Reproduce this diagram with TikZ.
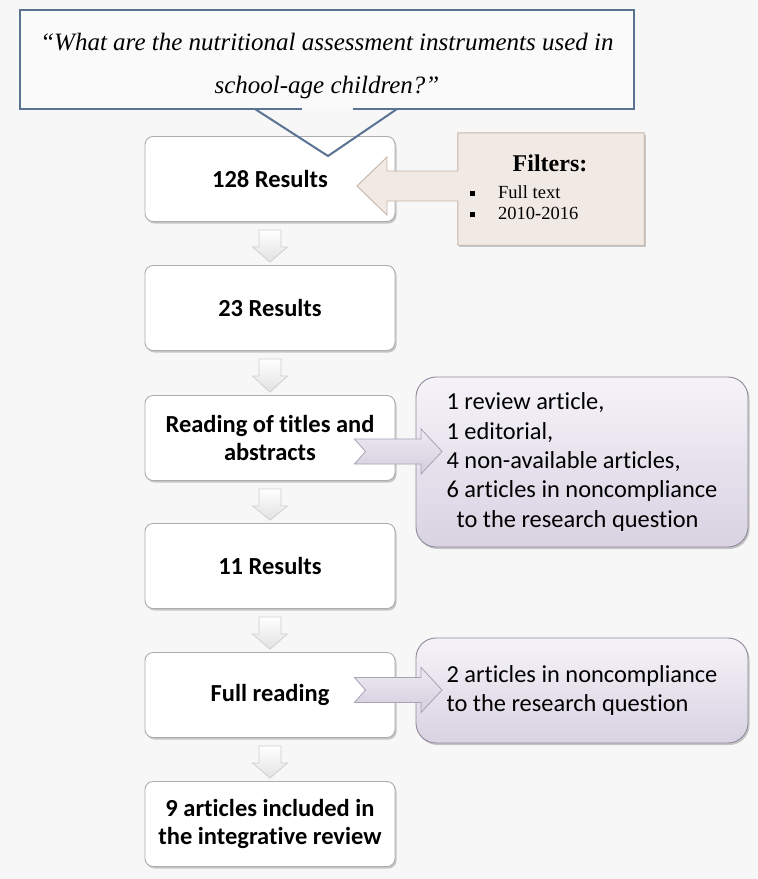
\documentclass[tikz,border=0pt]{standalone}
\usepackage{fontspec}
\setmainfont{Carlito}[Ligatures=NoCommon]
\newfontfamily\tnr{Liberation Serif}
\usetikzlibrary{calc,shadows}
\definecolor{bgc}{HTML}{F7F7F7}
\definecolor{boxline}{HTML}{ADADAD}
\definecolor{callline}{HTML}{5A7393}
\definecolor{purtop}{HTML}{F5F3F8}
\definecolor{purbot}{HTML}{D8D2E2}
\definecolor{purline}{HTML}{8E889B}
\definecolor{chevtop}{HTML}{EEEBF2}
\definecolor{chevbot}{HTML}{D3CDDD}
\definecolor{chevline}{HTML}{A8A2B4}
\definecolor{filtfill}{HTML}{F1E9E4}
\definecolor{filtline}{HTML}{C6B5A8}
\definecolor{darrline}{HTML}{CFCFCF}
\definecolor{darrbot}{HTML}{E2E2E2}
\newcommand\downarr[2]{%
  \draw[darr] ($(#1.south)+(-11,8)$) -- ($(#1.south)+(11,8)$) -- ($(#1.south)+(11,25)$)
    -- ($(#1.south)+(17.5,25)$) -- ($(#2.north)+(0,-3)$) -- ($(#1.south)+(-17.5,25)$)
    -- ($(#1.south)+(-11,25)$) -- cycle;}
\newcommand\chevron[3]{%
  \coordinate (ct) at ($(#1.east)+(-41,#3)$);
  \coordinate (cb) at ($(ct -| #2.west)+(5.5,0)$);
  \draw[chev] ($(ct)+(0,-12.5)$) -- ($(cb)+(0,-12.5)$) -- ($(cb)+(0,-22.5)$) -- ($(cb)+(21,0)$)
    -- ($(cb)+(0,22.5)$) -- ($(cb)+(0,12.5)$) -- ($(ct)+(0,12.5)$) -- ($(ct)+(11,0)$) -- cycle;}
\begin{document}
\begin{tikzpicture}[x=1pt,y=-1pt,
  shad/.style={drop shadow={shadow xshift=1.5pt,shadow yshift=-2pt,opacity=0.2,fill=black}},
  stepbox/.style={draw=boxline,line width=0.9pt,fill=white,rounded corners=8pt,
    minimum width=250pt,minimum height=85pt,align=center,inner sep=0pt,
    font=\bfseries\fontsize{24.5}{28}\selectfont,shad},
  exclbox/.style={draw=purline,line width=0.9pt,top color=purtop,bottom color=purbot,
    rounded corners=20pt,minimum width=332pt,align=left,inner sep=0pt,
    font=\fontsize{24.4}{29.3}\selectfont,shad},
  darr/.style={draw=darrline,line width=0.8pt,top color=white,bottom color=darrbot},
  chev/.style={draw=chevline,line width=0.8pt,top color=chevtop,bottom color=chevbot},
  callframe/.style={draw=callline,line width=2pt},
  filtshape/.style={draw=filtline,line width=0.9pt,fill=filtfill},
]
\fill[bgc] (0,0) rectangle (758,879);
\useasboundingbox (0,0) rectangle (758,879);

% main column
\node[stepbox] (b1) at (270,179) {128 Results};
\node[stepbox] (b2) at (270,308) {23 Results};
\node[stepbox] (b3) at (270,438) {Reading of titles and\\abstracts};
\node[stepbox] (b4) at (270,566) {11 Results};
\node[stepbox] (b5) at (270,695) {Full reading};
\node[stepbox] (b6) at (270,824) {9 articles included in\\the integrative review};

% exclusion boxes
\node[exclbox,minimum height=170pt] (ex1) at (582,462)
  {1 review article,\\1 editorial,\\4 non-available articles,\\6 articles in noncompliance\\\hspace*{10pt}to the research question};
\node[exclbox,minimum height=105pt] (ex2) at (582,690.5)
  {2 articles in noncompliance\\to the research question};

% down arrows
\downarr{b1}{b2}
\downarr{b2}{b3}
\downarr{b3}{b4}
\downarr{b4}{b5}
\downarr{b5}{b6}

% chevrons
\chevron{b3}{ex1}{13.5}
\chevron{b5}{ex2}{-5}

% filters box with arrow
\path node[minimum width=186pt,minimum height=112pt,inner sep=0pt] (filt) at (551,189) {};
\fill[black,opacity=0.2] ($(filt.north west)+(1.5,2)$) rectangle ($(filt.south east)+(1.5,2)$);
\draw[filtshape] (filt.north west) -- (filt.north east) -- (filt.south east) -- (filt.south west)
  -- (filt.west |- 0,201) -- (387,201) -- (387,215) -- (357,186)
  -- (387,157) -- (387,171) -- (filt.west |- 0,171) -- cycle;
\node[font=\tnr\bfseries\fontsize{24}{26}\selectfont,inner sep=0pt] (ftitle) at (550,163) {Filters:};
\node[anchor=base west,font=\tnr\fontsize{18.5}{21}\selectfont,align=left,inner sep=0pt] (flist) at (470,219)
  {\makebox[28pt][l]{\rule[1.6pt]{5pt}{5.5pt}}Full text\\\makebox[28pt][l]{\rule[1.6pt]{5pt}{5.5pt}}2010-2016};

% question callout
\fill[bgc!60!white] (20,10) rectangle (634,109);
\draw[callframe] (302,109) -- (20,109) -- (20,10) -- (634,10) -- (634,109) -- (353,109);
\draw[callframe] (255,109) -- (328,156) -- (397,109);
\node[font=\tnr\itshape\fontsize{25}{43}\selectfont,align=center,inner sep=0pt] (q) at (327,66)
  {“What are the nutritional assessment instruments used in\\school-age children?”};
\end{tikzpicture}
\end{document}
